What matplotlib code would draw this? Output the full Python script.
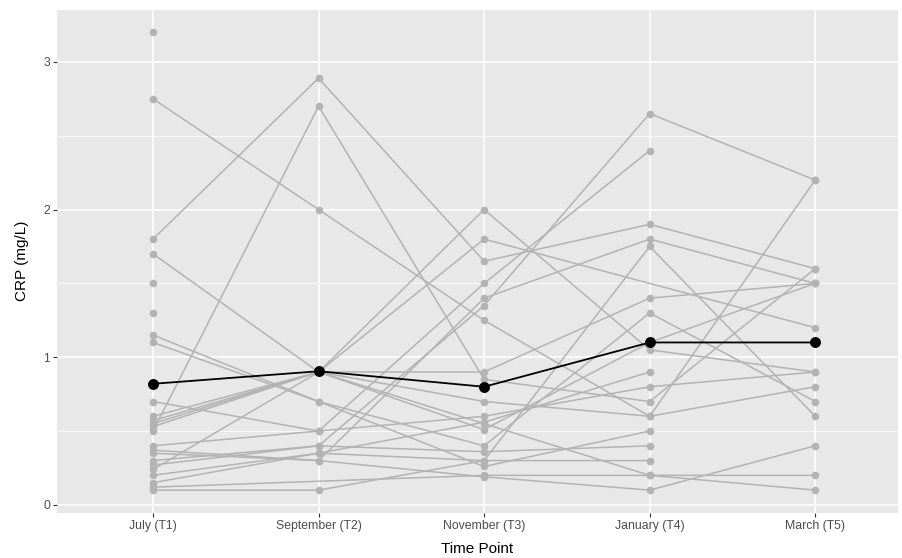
import numpy as np
import matplotlib
matplotlib.use("Agg")
import matplotlib.pyplot as plt

plt.rcParams['font.family'] = ['Liberation Sans', 'DejaVu Sans']

time_labels = ["July (T1)", "September (T2)", "November (T3)", "January (T4)", "March (T5)"]
nan = np.nan

# Individual CRP trajectories (mg/L), NaN = missing visit
s01 = [1.80, 2.89, 1.65, 1.90, 1.60]
s02 = [2.75, 2.00, 1.25, 0.60, 2.20]
s03 = [0.50, 2.70, 0.85, 0.70, 1.60]
s04 = [3.20, nan, nan, nan, nan]
s05 = [1.50, nan, nan, nan, nan]
s06 = [1.30, nan, nan, nan, nan]
s07 = [1.70, 0.90, 0.55, 0.20, 0.20]
s08 = [0.55, 0.90, 2.00, 1.05, 0.90]
s09 = [0.60, 0.90, 1.80, nan, 1.20]
s10 = [0.40, 0.50, 1.50, 2.40, nan]
s11 = [0.30, 0.40, 1.35, 2.65, 2.20]
s12 = [0.35, 0.30, 1.40, 1.80, 1.50]
s13 = [0.20, 0.35, 0.30, 1.75, 0.60]
s14 = [1.15, 0.70, 0.40, 1.30, 0.70]
s15 = [1.10, 0.70, 0.26, 0.50, nan]
s16 = [0.70, 0.50, 0.60, 0.80, 0.90]
s17 = [0.57, 0.90, 0.90, 1.40, 1.50]
s18 = [0.53, 0.90, 0.51, 1.10, 1.50]
s19 = [0.24, 0.90, 0.70, 0.60, 0.80]
s20 = [0.27, 0.40, 0.36, 0.40, nan]
s21 = [0.15, 0.35, 0.56, 0.90, nan]
s22 = [0.37, 0.30, 0.19, 0.10, 0.40]
s23 = [0.10, 0.10, 0.30, 0.30, nan]
s24 = [0.12, nan, 0.20, 0.20, 0.10]

subjects = [s01, s02, s03, s04, s05, s06, s07, s08, s09, s10, s11, s12,
            s13, s14, s15, s16, s17, s18, s19, s20, s21, s22, s23, s24]

mean_crp = [0.82, 0.905, 0.80, 1.10, 1.10]

W, H = 902, 558
fig = plt.figure(figsize=(W / 100, H / 100), dpi=100)
left_px, right_px, top_px, bottom_px = 57, 898, 9.5, 513
ax = fig.add_axes([left_px / W, 1 - bottom_px / H,
                   (right_px - left_px) / W, (bottom_px - top_px) / H])
ax.set_facecolor('#E8E8E8')
for sp in ax.spines.values():
    sp.set_visible(False)

x = np.arange(1, 6)
ax.set_xlim(0.42, 5.50)
ax.set_ylim(-0.055, 3.355)

# grid
for yv in [0.5, 1.5, 2.5]:
    ax.axhline(yv, color='white', lw=0.55, zorder=0)
for yv in [0, 1, 2, 3]:
    ax.axhline(yv, color='white', lw=1.1, zorder=0)
for xv in x:
    ax.axvline(xv, color='white', lw=1.1, zorder=0)

grey = '#B3B3B3'
for s in subjects:
    arr = np.array(s, dtype=float)
    m = ~np.isnan(arr)
    ax.plot(x[m], arr[m], color=grey, lw=1.1, zorder=2, solid_capstyle='butt')
    ax.scatter(x[m], arr[m], s=30, color=grey, zorder=3, linewidths=0)

ax.plot(x, mean_crp, color='black', lw=1.3, zorder=4)
ax.scatter(x, mean_crp, s=62, color='black', zorder=5, linewidths=0)

ax.set_xticks(x)
ax.set_xticklabels(time_labels)
ax.set_yticks([0, 1, 2, 3])
ax.set_yticklabels(['0', '1', '2', '3'])
ax.tick_params(axis='both', colors='#333333', length=3, width=0.8,
               labelsize=8.8, labelcolor='#4D4D4D', pad=2)
ax.set_xlabel('Time Point', fontsize=11, color='black', labelpad=7)
ax.set_ylabel('CRP (mg/L)', fontsize=11, color='black', labelpad=10)

fig.savefig('out.png', dpi=100)
